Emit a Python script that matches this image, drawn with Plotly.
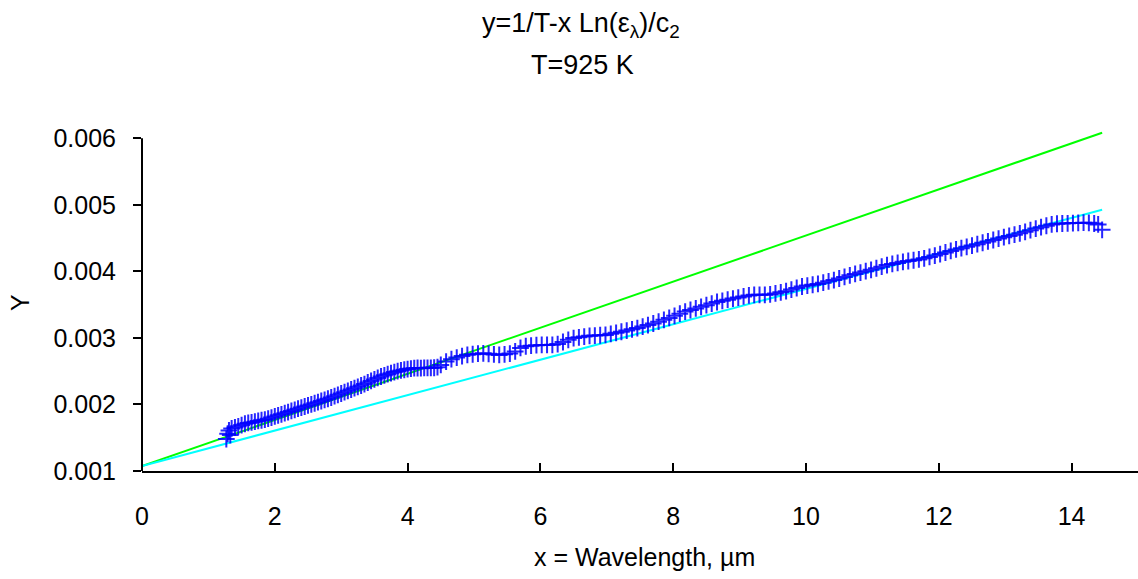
import plotly.graph_objects as go

# ---- data ----
# measured points (x = wavelength in um, y in units of 1e-6)
x_meas = [1.27, 1.29, 1.31, 1.33, 1.35,
          1.40, 1.45, 1.50, 1.55, 1.60, 1.65, 1.70, 1.75, 1.80, 1.85, 1.90, 1.95, 2.00, 2.05,
          2.10, 2.15, 2.20, 2.25, 2.30, 2.35, 2.40, 2.45, 2.50, 2.55, 2.60, 2.65, 2.70, 2.75, 2.80,
          2.85, 2.90, 2.95, 3.00, 3.05, 3.10, 3.15, 3.20, 3.25, 3.30, 3.35, 3.40, 3.45, 3.50, 3.55,
          3.60, 3.65, 3.70, 3.75, 3.80, 3.85, 3.90, 3.95, 4.00, 4.05, 4.10, 4.15, 4.20, 4.25, 4.30,
          4.35, 4.40, 4.45,
          4.50, 4.58, 4.66, 4.74, 4.82, 4.90, 4.98, 5.06, 5.14, 5.22, 5.30, 5.38, 5.46, 5.54, 5.62,
          5.70, 5.78, 5.86, 5.94, 6.02, 6.10, 6.18, 6.26, 6.34, 6.42, 6.50, 6.58, 6.66, 6.74, 6.82,
          6.90, 6.98, 7.06, 7.14, 7.22, 7.30, 7.38, 7.46, 7.54, 7.62, 7.70, 7.78, 7.86, 7.94, 8.02,
          8.10, 8.18, 8.26, 8.34, 8.42, 8.50, 8.58, 8.66, 8.74, 8.82, 8.90, 8.98, 9.06, 9.14, 9.22,
          9.30, 9.38, 9.46, 9.54, 9.62, 9.70, 9.78, 9.86, 9.94, 10.02, 10.10, 10.18, 10.26, 10.34,
          10.42, 10.50, 10.58, 10.66, 10.74, 10.82, 10.90, 10.98, 11.06, 11.14, 11.22, 11.30, 11.38,
          11.46, 11.54, 11.62, 11.70, 11.78, 11.86, 11.94, 12.02, 12.10, 12.18, 12.26, 12.34, 12.42,
          12.50, 12.58, 12.66, 12.74, 12.82, 12.90, 12.98, 13.06, 13.14, 13.22, 13.30, 13.38, 13.46,
          13.54, 13.62, 13.70, 13.78, 13.86, 13.94, 14.02, 14.10, 14.18, 14.26, 14.34, 14.40, 14.46]
y_meas_micro = [1480, 1560, 1610, 1540, 1640,
                1655, 1672, 1690, 1710, 1722, 1730, 1742, 1752, 1763, 1772, 1787, 1803, 1820, 1836,
                1852, 1869, 1886, 1903, 1920, 1937, 1953, 1969, 1985, 2001, 2018, 2035, 2052, 2069, 2086,
                2105, 2125, 2145, 2165, 2185, 2205, 2225, 2245, 2265, 2285, 2307, 2330, 2353, 2376, 2399,
                2420, 2438, 2455, 2470, 2486, 2500, 2512, 2522, 2532, 2540, 2546, 2548, 2546, 2549, 2551,
                2550, 2552, 2560,
                2594, 2645, 2681, 2704, 2727, 2746, 2755, 2763, 2769, 2761, 2752, 2744, 2754, 2765, 2797,
                2850, 2875, 2883, 2891, 2895, 2895, 2896, 2907, 2939, 2971, 2998, 3009, 3020, 3031, 3035,
                3040, 3045, 3061, 3077, 3093, 3111, 3129, 3148, 3171, 3193, 3217, 3244, 3272, 3300, 3332,
                3364, 3396, 3420, 3444, 3468, 3492, 3516, 3540, 3558, 3575, 3591, 3607, 3623, 3639, 3648,
                3647, 3648, 3653, 3669, 3685, 3703, 3727, 3750, 3773, 3786, 3799, 3812, 3831, 3850,
                3870, 3893, 3917, 3941, 3962, 3982, 4003, 4023, 4047, 4071, 4095, 4112, 4127,
                4143, 4156, 4167, 4179, 4196, 4217, 4238, 4260, 4284, 4308, 4330, 4349, 4369,
                4388, 4409, 4430, 4451, 4472, 4493, 4514, 4533, 4552, 4572, 4595, 4620, 4644,
                4665, 4686, 4706, 4716, 4720, 4723, 4726, 4729, 4732, 4730, 4720, 4705, 4624]

# fitted straight lines (endpoints)
x_fit = [0.0, 14.46]
y_fit_green = [0.001075, 0.006084]
y_fit_cyan = [0.001075, 0.004925]

x_ticks = [0, 2, 4, 6, 8, 10, 12, 14]
y_ticks = [0.001, 0.002, 0.003, 0.004, 0.005, 0.006]

title_line1 = "y=1/T-x Ln(ε<sub>λ</sub>)/c<sub>2</sub>"
title_line2 = "T=925 K"
x_title = "x = Wavelength, µm"
y_title = "Y"

FONT = "Liberation Sans, Arial, sans-serif"
BLUE = "rgba(0,0,255,0.85)"

y_meas = [v * 1e-6 for v in y_meas_micro]

fig = go.Figure()
fig.add_trace(go.Scatter(x=x_fit, y=y_fit_green, mode="lines",
                         line=dict(color="#00FF00", width=2), showlegend=False))
fig.add_trace(go.Scatter(x=x_fit, y=y_fit_cyan, mode="lines",
                         line=dict(color="#00FFFF", width=2), showlegend=False))
fig.add_trace(go.Scatter(x=x_meas, y=y_meas, mode="markers",
                         marker=dict(symbol="cross-thin-open", size=12, color=BLUE,
                                     line=dict(color=BLUE, width=2)),
                         showlegend=False))

L, R, T, B = 142, 0, 125, 108
W, H = 1138, 579
ymin, ymax = 0.001, 0.0062

fig.update_layout(
    width=W, height=H,
    margin=dict(l=L, r=R, t=T, b=B),
    paper_bgcolor="white", plot_bgcolor="white",
    font=dict(family=FONT, size=25, color="black"),
    xaxis=dict(range=[0, 15], tickvals=x_ticks, ticktext=[str(v) for v in x_ticks],
               showgrid=False, zeroline=False, showline=True, linecolor="black", linewidth=2,
               ticks="inside", ticklen=8, tickwidth=2, tickcolor="black",
               ticklabelstandoff=22, tickfont=dict(size=25)),
    yaxis=dict(range=[ymin, ymax], tickvals=y_ticks, ticktext=["%.3f" % v for v in y_ticks],
               showgrid=False, zeroline=False, showline=False,
               ticks="outside", ticklen=8, tickwidth=2, tickcolor="black",
               ticklabelstandoff=12, tickfont=dict(size=25)),
)

ph = H - T - B
def py_to_paper(py):
    return (H - B - py) / ph

def px_to_paper(px):
    return (px - L) / (W - L - R)

# y axis line from 0.001 to 0.006
fig.add_shape(type="line", xref="paper", yref="paper",
              x0=0, x1=0, y0=0, y1=(0.006 - ymin) / (ymax - ymin),
              line=dict(color="black", width=2))

fig.add_annotation(text=title_line1, xref="paper", yref="paper",
                   x=px_to_paper(581), y=py_to_paper(25), xanchor="center", yanchor="middle",
                   showarrow=False, font=dict(size=27))
fig.add_annotation(text=title_line2, xref="paper", yref="paper",
                   x=px_to_paper(582), y=py_to_paper(65), xanchor="center", yanchor="middle",
                   showarrow=False, font=dict(size=27))
fig.add_annotation(text=x_title, xref="paper", yref="paper",
                   x=px_to_paper(644), y=py_to_paper(557), xanchor="center", yanchor="middle",
                   showarrow=False, font=dict(size=25))
fig.add_annotation(text=y_title, xref="paper", yref="paper",
                   x=px_to_paper(20), y=py_to_paper(303), xanchor="center", yanchor="middle",
                   textangle=-90, showarrow=False, font=dict(size=25))

fig.write_html("out.html")
